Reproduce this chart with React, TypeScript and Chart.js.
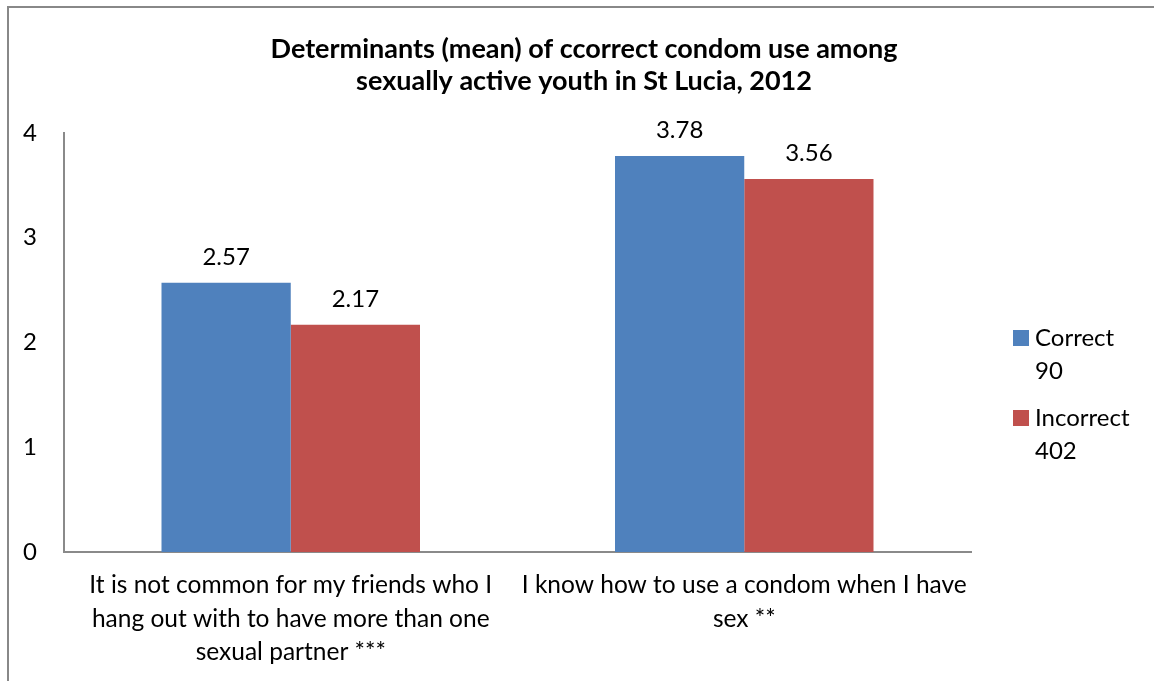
import { useEffect, useRef } from "react";
import { Chart, registerables } from "chart.js";

Chart.register(...registerables);

// Chart content
const titleLines = [
  "Determinants (mean) of ccorrect condom use among",
  "sexually active youth in St Lucia, 2012",
];
const categories = [
  ["It is not common for my friends who I", "hang out with to have more than one", "sexual partner ***"],
  ["I know how to use a condom when I have", "sex **"],
];
const seriesLabels = [
  ["Correct", "90"],
  ["Incorrect", "402"],
];
const correctMeans = [2.57, 3.78];
const incorrectMeans = [2.17, 3.56];
const seriesColors = ["#4F81BD", "#C0504D"];
const yMin = 0;
const yMax = 4;
const yStep = 1;

const FONT = "Lato, 'Open Sans', sans-serif";

const framePlugin = {
  id: "frame",
  beforeDraw(chart: any) {
    const { ctx } = chart;
    ctx.save();
    ctx.fillStyle = "#ffffff";
    ctx.fillRect(0, 0, chart.width, chart.height);
    ctx.strokeStyle = "#888888";
    ctx.lineWidth = 2;
    ctx.beginPath();
    ctx.moveTo(8, chart.height + 2);
    ctx.lineTo(8, 7);
    ctx.lineTo(chart.width + 2, 7);
    ctx.stroke();
    ctx.restore();
  },
};

const titlePlugin = {
  id: "twoLineTitle",
  afterDraw(chart: any) {
    const { ctx } = chart;
    ctx.save();
    ctx.font = `bold 27px ${FONT}`;
    ctx.fillStyle = "#000000";
    ctx.textAlign = "center";
    ctx.textBaseline = "alphabetic";
    titleLines.forEach((line, i) => {
      ctx.fillText(line, 584, 58 + i * 32);
    });
    ctx.restore();
  },
};

const valueLabelPlugin = {
  id: "valueLabels",
  afterDatasetsDraw(chart: any) {
    const { ctx } = chart;
    ctx.save();
    ctx.font = `24px ${FONT}`;
    ctx.fillStyle = "#000000";
    ctx.textAlign = "center";
    ctx.textBaseline = "alphabetic";
    chart.data.datasets.forEach((ds: any, di: number) => {
      const meta = chart.getDatasetMeta(di);
      meta.data.forEach((bar: any, i: number) => {
        ctx.fillText(ds.data[i].toFixed(2), bar.x, bar.y - 18);
      });
    });
    ctx.restore();
  },
};

const sideLegendPlugin = {
  id: "sideLegend",
  afterDraw(chart: any) {
    const { ctx } = chart;
    ctx.save();
    ctx.font = `24px ${FONT}`;
    ctx.fillStyle = "#000000";
    ctx.textAlign = "left";
    ctx.textBaseline = "middle";
    chart.data.datasets.forEach((ds: any, di: number) => {
      const top = 330 + di * 80;
      ctx.fillStyle = ds.backgroundColor;
      ctx.fillRect(1013, top, 16, 16);
      ctx.fillStyle = "#000000";
      seriesLabels[di].forEach((line, li) => {
        ctx.fillText(line, 1035, top + 8 + li * 33);
      });
    });
    ctx.restore();
  },
};

export default function App() {
  const canvasRef = useRef<HTMLCanvasElement>(null);

  useEffect(() => {
    if (!canvasRef.current) return;
    const chart = new Chart(canvasRef.current, {
      type: "bar",
      data: {
        labels: categories,
        datasets: [
          {
            label: seriesLabels[0].join(" "),
            data: correctMeans,
            backgroundColor: seriesColors[0],
            categoryPercentage: 0.57,
            barPercentage: 1.0,
          },
          {
            label: seriesLabels[1].join(" "),
            data: incorrectMeans,
            backgroundColor: seriesColors[1],
            categoryPercentage: 0.57,
            barPercentage: 1.0,
          },
        ],
      },
      options: {
        animation: false,
        responsive: false,
        maintainAspectRatio: false,
        layout: {
          autoPadding: false,
          padding: { top: 133, right: 183, bottom: 0, left: 0 },
        },
        plugins: {
          legend: { display: false },
          title: { display: false },
          tooltip: { enabled: false },
        },
        scales: {
          x: {
            grid: { display: false, drawTicks: false },
            border: { display: true, color: "#8a8a8a", width: 2 },
            ticks: {
              color: "#000000",
              font: { family: FONT, size: 24.5, lineHeight: 1.35 },
              padding: 17,
              maxRotation: 0,
              autoSkip: false,
            },
            afterFit(scale: any) {
              scale.height = 129;
            },
          },
          y: {
            min: yMin,
            max: yMax,
            grid: { display: false, drawTicks: false },
            border: { display: true, color: "#8a8a8a", width: 2 },
            ticks: {
              stepSize: yStep,
              color: "#000000",
              font: { family: FONT, size: 24 },
              padding: 27,
            },
            afterFit(scale: any) {
              scale.width = 64;
            },
          },
        },
      },
      plugins: [framePlugin, titlePlugin, valueLabelPlugin, sideLegendPlugin],
    });
    return () => chart.destroy();
  }, []);

  return (
    <div style={{ position: "absolute", left: 0, top: 0, width: 1154, height: 681 }}>
      <canvas ref={canvasRef} width={1154} height={681} style={{ display: "block" }} />
    </div>
  );
}
